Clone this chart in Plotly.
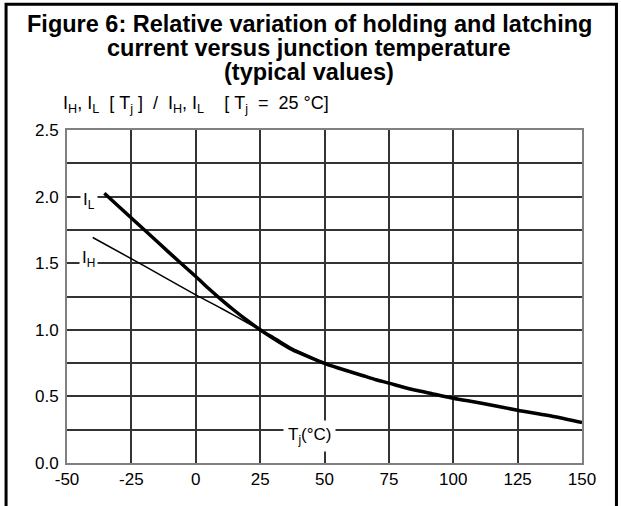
import plotly.graph_objects as go

# ---- data ----
tj_il = [-35.5, -30, -20, -10, 0, 5, 10, 15, 20, 25, 30, 37.5, 45, 50,
         55, 60, 65, 70, 75, 80, 85, 90, 100, 110, 125, 140, 150]
il = [2.025, 1.928, 1.751, 1.574, 1.40, 1.31, 1.225, 1.145, 1.07, 1.0, 0.937, 0.85, 0.787, 0.748,
      0.715, 0.685, 0.655, 0.625, 0.60, 0.572, 0.548, 0.528, 0.486, 0.452, 0.396, 0.345, 0.303]

tj_ih = [-40, -20, 0, 10, 20, 25, 30, 37.5, 45, 50,
         55, 60, 65, 70, 75, 80, 85, 90, 100, 110, 125, 140, 150]
ih = [1.693, 1.48, 1.262, 1.16, 1.053, 1.0, 0.95, 0.862, 0.795, 0.748,
      0.715, 0.685, 0.655, 0.625, 0.60, 0.572, 0.548, 0.528, 0.486, 0.452, 0.396, 0.345, 0.303]

x_ticks = [-50, -25, 0, 25, 50, 75, 100, 125, 150]
x_tick_labels = ["-50", "-25", "0", "25", "50", "75", "100", "125", "150"]
y_ticks = [0.0, 0.25, 0.5, 0.75, 1.0, 1.25, 1.5, 1.75, 2.0, 2.25, 2.5]
y_tick_labels = ["0.0", "", "0.5", "", "1.0", "", "1.5", "", "2.0", "", "2.5"]

title_lines = ["Figure 6: Relative variation of holding and latching",
               "current versus junction temperature",
               "(typical values)"]
y_label = ("I<sub>H</sub>,&nbsp;I<sub>L</sub>&nbsp;&nbsp;[&nbsp;T<sub>j</sub>&nbsp;]&nbsp;&nbsp;/&nbsp;&nbsp;"
           "I<sub>H</sub>,&nbsp;I<sub>L</sub>&nbsp;&nbsp;&nbsp;&nbsp;[&nbsp;T<sub>j</sub>&nbsp;&nbsp;=&nbsp;&nbsp;25&nbsp;°C]")
x_label = "T<sub>j</sub>(°C)"

FONT = "Liberation Sans, Arial, sans-serif"

fig = go.Figure()
fig.add_trace(go.Scatter(x=tj_ih, y=ih, mode="lines",
                         line=dict(color="black", width=1.5, shape="spline", smoothing=0.6),
                         showlegend=False, hoverinfo="skip"))
fig.add_trace(go.Scatter(x=tj_il, y=il, mode="lines",
                         line=dict(color="black", width=3.5, shape="spline", smoothing=0.6),
                         showlegend=False, hoverinfo="skip"))

L, R, T, B = 66.5, 582.0, 130.0, 463.5
W, H = R - L, B - T

def px2paper_x(px):
    return (px - L) / W

def px2paper_y(py):
    return (B - py) / H

annotations = []
for txt, py in zip(title_lines, [23.5, 47.5, 71.5]):
    annotations.append(dict(text="<b>" + txt + "</b>", xref="paper", yref="paper",
                            x=px2paper_x(309), y=px2paper_y(py), xanchor="center",
                            yanchor="middle", showarrow=False,
                            font=dict(family=FONT, size=23.5, color="black")))
annotations.append(dict(text=y_label, xref="paper", yref="paper",
                        x=px2paper_x(60), y=px2paper_y(104), xanchor="left", yanchor="middle",
                        showarrow=False, font=dict(family=FONT, size=18, color="black")))
annotations.append(dict(text="I<sub>L</sub>", xref="x", yref="y", x=-41.5, y=1.97,
                        xanchor="center", yanchor="middle", showarrow=False, bgcolor="white",
                        borderpad=2, font=dict(family=FONT, size=17, color="black")))
annotations.append(dict(text="I<sub>H</sub>", xref="x", yref="y", x=-41.5, y=1.53,
                        xanchor="center", yanchor="middle", showarrow=False, bgcolor="white",
                        borderpad=2, font=dict(family=FONT, size=17, color="black")))
annotations.append(dict(text=x_label, xref="x", yref="y", x=44.0, y=0.2,
                        xanchor="center", yanchor="middle", showarrow=False, bgcolor="white",
                        borderpad=4, font=dict(family=FONT, size=17, color="black")))

fig.update_layout(
    width=621, height=506,
    margin=dict(l=L, r=621 - R, t=T, b=506 - B, pad=0),
    paper_bgcolor="white", plot_bgcolor="white",
    font=dict(family=FONT, size=17, color="black"),
    annotations=annotations,
    shapes=[dict(type="rect", xref="paper", yref="paper",
                 x0=px2paper_x(5.5), x1=px2paper_x(616.5),
                 y0=px2paper_y(520), y1=px2paper_y(4.0),
                 line=dict(color="black", width=3), layer="above")],
)
fig.update_xaxes(range=[-50, 150], tickmode="array", tickvals=x_ticks, ticktext=x_tick_labels,
                 showgrid=True, gridcolor="#333333", gridwidth=1.5, zeroline=False,
                 showline=True, linecolor="#808080", linewidth=2, mirror=True,
                 ticks="", ticklabelstandoff=0, tickfont=dict(size=17))
fig.update_yaxes(range=[0, 2.5], tickmode="array", tickvals=y_ticks, ticktext=y_tick_labels,
                 showgrid=True, gridcolor="#333333", gridwidth=1.5, zeroline=False,
                 showline=True, linecolor="#808080", linewidth=2, mirror=True,
                 ticks="", ticklabelstandoff=3, tickfont=dict(size=17))

fig.write_html("out.html", config={"displayModeBar": False},
               post_script="document.body.style.margin='0';document.body.style.overflow='hidden';")
